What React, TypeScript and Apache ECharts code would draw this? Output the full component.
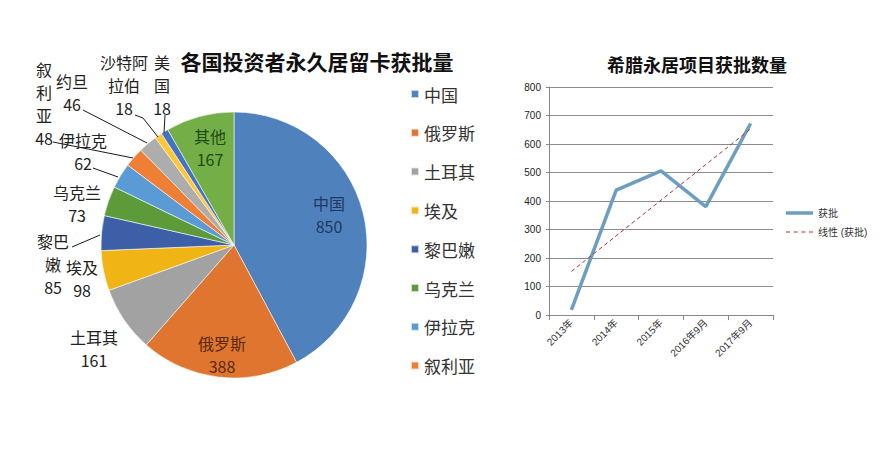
import React, { useEffect, useRef } from "react";
import * as echarts from "echarts";

// ---- Pie data ----
const pieNames = ["中国", "俄罗斯", "土耳其", "埃及", "黎巴嫩", "乌克兰", "伊拉克", "叙利亚", "约旦", "沙特阿拉伯", "美国", "其他"];
const pieValues = [850, 388, 161, 98, 85, 73, 62, 48, 46, 18, 18, 167];
const pieLabelNames = ["中国", "俄罗斯", "土耳其", "埃及", "黎巴\n嫩", "乌克兰", "伊拉克", "叙\n利\n亚", "约旦", "沙特阿\n拉伯", "美\n国", "其他"];
const pieLegendNames = ["中国", "俄罗斯", "土耳其", "埃及", "黎巴嫩", "乌克兰", "伊拉克", "叙利亚"];

// ---- Line data ----
const lineCategories = ["2013年", "2014年", "2015年", "2016年9月", "2017年9月"];
const lineValues = [18, 438, 506, 380, 672];

// ---- styles / layout (kept apart from data) ----
const pieColors = ["#4F81BD", "#E07530", "#A2A2A2", "#F0B414", "#3D5FA8", "#5C9A3A", "#5B9BD5", "#EF7F35", "#ADADAD", "#FFC636", "#4472C4", "#73AE47"];
const insideLabelColors: Record<number, string> = { 0: "#1F3864", 1: "#5A2A10", 11: "#1E4A12" };
const labelCenters: [number, number][] = [
  [329, 214], [222, 354], [94, 348], [82, 278], [53, 264], [77, 203],
  [83, 151], [44, 103], [72, 92], [124, 85], [162, 85], [210, 147],
];
// leader lines (annotation guides from labels to slices)
const leaderLines: number[][][] = [
  [[72, 247], [100, 235]],
  [[93, 168], [118, 177]],
  [[53, 142], [133, 158]],
  [[83, 110], [147, 143]],
  [[135, 115], [143, 118], [158, 137]],
  [[165, 115], [164, 133]],
];

function linearTrend(vals: number[]): number[] {
  const n = vals.length;
  const xs = vals.map((_, i) => i + 1);
  const mx = xs.reduce((a, b) => a + b, 0) / n;
  const my = vals.reduce((a, b) => a + b, 0) / n;
  let num = 0, den = 0;
  for (let i = 0; i < n; i++) { num += (xs[i] - mx) * (vals[i] - my); den += (xs[i] - mx) ** 2; }
  const slope = num / den;
  const b = my - slope * mx;
  return xs.map((x) => +(b + slope * x).toFixed(1));
}

const CJK = "'Noto Sans CJK SC', 'Noto Sans', sans-serif";
const SANS = "'Liberation Sans', 'Noto Sans CJK SC', sans-serif";

export default function App() {
  const ref = useRef<HTMLDivElement>(null);
  useEffect(() => {
    if (!ref.current) return;
    const chart = echarts.init(ref.current, null, { renderer: "svg" });
    const trend = linearTrend(lineValues);
    chart.setOption({
      animation: false,
      backgroundColor: "#ffffff",
      graphic: [
        { type: "text", x: 317, y: 61, style: { text: "各国投资者永久居留卡获批量", textAlign: "center", textVerticalAlign: "middle", font: `bold 21px ${CJK}`, fill: "#111" } },
        { type: "text", x: 697, y: 64, style: { text: "希腊永居项目获批数量", textAlign: "center", textVerticalAlign: "middle", font: `bold 18px ${CJK}`, fill: "#111" } },
        ...leaderLines.map((pts) => ({
          type: "polyline",
          z: 10,
          shape: { points: pts },
          style: { stroke: "#1a1a1a", lineWidth: 1, fill: null },
        })),
      ],
      legend: [
        {
          data: pieLegendNames,
          orient: "vertical",
          left: 410,
          top: 84,
          padding: 0,
          icon: "rect",
          itemWidth: 8,
          itemHeight: 8,
          itemGap: 18.8,
          textStyle: { fontSize: 17, lineHeight: 20, color: "#333", fontFamily: CJK },
        },
        {
          data: [
            { name: "获批", icon: "path://M0,0h27v3.5h-27z" },
            { name: "线性 (获批)", icon: "path://M0,0h4v1h-4zM7.5,0h4v1h-4zM15,0h4v1h-4zM22.5,0h4v1h-4z" },
          ],
          orient: "vertical",
          left: 786,
          top: 207,
          padding: 0,
          itemWidth: 27,
          itemHeight: 8,
          itemGap: 7,
          textStyle: { fontSize: 10, lineHeight: 12, color: "#333", fontFamily: SANS },
        },
      ],
      grid: { left: 549, right: 117, top: 87, bottom: 155 },
      xAxis: {
        type: "category",
        data: lineCategories,
        boundaryGap: true,
        axisLine: { lineStyle: { color: "#888" } },
        axisTick: { show: true, lineStyle: { color: "#888" } },
        axisLabel: { rotate: 45, fontSize: 10, color: "#333", fontFamily: SANS, margin: 6 },
      },
      yAxis: {
        type: "value",
        min: 0,
        max: 800,
        interval: 100,
        axisLine: { show: true, lineStyle: { color: "#888" } },
        axisTick: { show: true, length: 3, lineStyle: { color: "#888" } },
        splitLine: { lineStyle: { color: "#8c8c8c", width: 1 } },
        axisLabel: { fontSize: 10, color: "#222", fontFamily: SANS, margin: 8 },
      },
      series: [
        {
          type: "pie",
          center: [234, 245],
          radius: 133,
          startAngle: 90,
          clockwise: true,
          itemStyle: { borderColor: "rgba(255,255,255,0.7)", borderWidth: 0.8 },
          data: pieNames.map((name, i) => ({
            name,
            value: pieValues[i],
            itemStyle: { color: pieColors[i] },
            label: { color: insideLabelColors[i] || "#222" },
          })),
          label: {
            show: true,
            position: "outside",
            overflow: "none",
            formatter: (p: any) => `${pieLabelNames[p.dataIndex]}\n${p.value}`,
            fontSize: 16,
            lineHeight: 23,
            fontFamily: CJK,
            align: "center",
          },
          labelLine: { show: false },
          labelLayout: (params: any) => {
            const c = labelCenters[params.dataIndex];
            return { x: c[0], y: c[1], align: "center", verticalAlign: "middle" };
          },
        },
        {
          type: "line",
          name: "获批",
          data: lineValues,
          symbol: "none",
          color: "#6C9EC0",
          lineStyle: { color: "#6C9EC0", width: 3.5 },
        },
        {
          type: "line",
          name: "线性 (获批)",
          data: trend,
          symbol: "none",
          color: "#A8323C",
          lineStyle: { color: "#A8323C", width: 1, type: [4, 3] },
        },
      ],
    });
    return () => chart.dispose();
  }, []);
  return <div ref={ref} style={{ width: 890, height: 470, position: "absolute", left: 0, top: 0 }} />;
}
